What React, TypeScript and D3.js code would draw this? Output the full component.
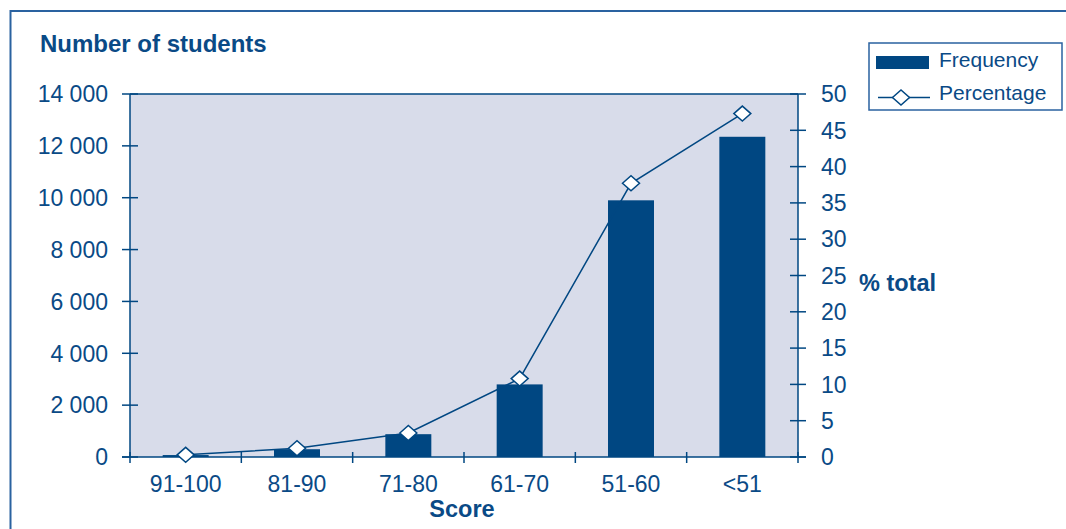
import React, { useEffect, useRef } from 'react';
import * as d3 from 'd3';

// chart data
const categories = ['91-100', '81-90', '71-80', '61-70', '51-60', '<51'];
const frequency = [75, 300, 880, 2800, 9900, 12350];
const percentage = [0.3, 1.2, 3.3, 10.8, 37.7, 47.3];
const leftTicks = [0, 2000, 4000, 6000, 8000, 10000, 12000, 14000];
const rightTicks = [0, 5, 10, 15, 20, 25, 30, 35, 40, 45, 50];

const BLUE = '#004782';
const TEXT = '#0a4a86';
const FRAME = '#2a62a0';
const BG = '#d8dcea';
const FONT = '"Liberation Sans", Arial, sans-serif';

const App = () => {
    const ref = useRef<SVGSVGElement | null>(null);

    useEffect(() => {
        const svg = d3.select(ref.current);
        svg.selectAll('*').remove();

        const left = 130, right = 798, top = 94, bottom = 457;

        // outer frame (runs off the right and bottom edge)
        svg.append('rect')
            .attr('x', 10.5).attr('y', 11)
            .attr('width', 1100).attr('height', 600)
            .attr('fill', 'none').attr('stroke', FRAME).attr('stroke-width', 2);

        const x = d3.scaleBand()
            .domain(categories)
            .range([left, right])
            .paddingInner(0.587)
            .paddingOuter(0.2935);
        const y = d3.scaleLinear().domain([0, 14000]).range([bottom, top]);
        const y2 = d3.scaleLinear().domain([0, 50]).range([bottom, top]);

        // plot background
        svg.append('rect')
            .attr('x', left).attr('y', top)
            .attr('width', right - left).attr('height', bottom - top)
            .attr('fill', BG);
        svg.append('line')
            .attr('x1', left).attr('x2', right).attr('y1', top).attr('y2', top)
            .attr('stroke', BLUE).attr('stroke-width', 1.5);

        // bars
        svg.append('g')
            .selectAll('rect')
            .data(frequency)
            .enter().append('rect')
            .attr('x', (d, i) => x(categories[i]) as number)
            .attr('y', (d) => y(d))
            .attr('width', x.bandwidth())
            .attr('height', (d) => bottom - y(d))
            .attr('fill', BLUE);

        // axes lines
        const axes = svg.append('g').attr('stroke', BLUE).attr('stroke-width', 1.5);
        axes.append('line').attr('x1', left).attr('x2', left).attr('y1', top).attr('y2', bottom);
        axes.append('line').attr('x1', right).attr('x2', right).attr('y1', top).attr('y2', bottom);
        axes.append('line').attr('x1', left - 8).attr('x2', right + 8).attr('y1', bottom).attr('y2', bottom);

        leftTicks.forEach((t) => {
            axes.append('line').attr('x1', left - 8).attr('x2', left + 8).attr('y1', y(t)).attr('y2', y(t));
        });
        rightTicks.forEach((t) => {
            axes.append('line').attr('x1', right - 8).attr('x2', right + 8).attr('y1', y2(t)).attr('y2', y2(t));
        });
        const step = x.step();
        d3.range(categories.length + 1).forEach((i) => {
            const xx = left + i * step;
            axes.append('line').attr('x1', xx).attr('x2', xx).attr('y1', bottom - 5).attr('y2', bottom + 6);
        });

        const fmt = (v: number) => d3.format(',')(v).replace(',', ' ');

        // tick labels
        const labels = svg.append('g').attr('fill', TEXT).style('font-family', FONT).style('font-size', '23px');
        leftTicks.forEach((t) => {
            labels.append('text').attr('x', 108).attr('y', y(t)).attr('dy', '0.36em')
                .attr('text-anchor', 'end').text(fmt(t));
        });
        rightTicks.forEach((t) => {
            labels.append('text').attr('x', 821).attr('y', y2(t)).attr('dy', '0.36em').text(t);
        });
        categories.forEach((c) => {
            labels.append('text').attr('x', (x(c) as number) + x.bandwidth() / 2).attr('y', 492)
                .attr('text-anchor', 'middle').text(c);
        });

        // titles
        const titles = svg.append('g').attr('fill', TEXT).style('font-family', FONT)
            .style('font-size', '23.5px').style('font-weight', 'bold');
        titles.append('text').attr('x', 40).attr('y', 52).style('font-size', '24px').text('Number of students');
        titles.append('text').attr('x', 462).attr('y', 517).attr('text-anchor', 'middle').text('Score');
        titles.append('text').attr('x', 859).attr('y', 291).text('% total');

        // percentage line
        const cx = (i: number) => (x(categories[i]) as number) + x.bandwidth() / 2;
        const line = d3.line<number>().x((d, i) => cx(i)).y((d) => y2(d));
        svg.append('path')
            .datum(percentage)
            .attr('d', line)
            .attr('fill', 'none').attr('stroke', BLUE).attr('stroke-width', 1.5);

        const diamond = (px: number, py: number) =>
            `M${px - 8.5},${py} L${px},${py - 7.5} L${px + 8.5},${py} L${px},${py + 7.5} Z`;
        svg.append('g')
            .selectAll('path')
            .data(percentage)
            .enter().append('path')
            .attr('d', (d, i) => diamond(cx(i), y2(d)))
            .attr('fill', '#fff').attr('stroke', BLUE).attr('stroke-width', 1.5);

        // legend
        const lg = svg.append('g');
        lg.append('rect').attr('x', 869).attr('y', 43).attr('width', 193).attr('height', 67)
            .attr('fill', '#fff').attr('stroke', FRAME).attr('stroke-width', 1.5);
        lg.append('rect').attr('x', 876).attr('y', 56).attr('width', 53).attr('height', 13).attr('fill', BLUE);
        lg.append('line').attr('x1', 878).attr('x2', 930).attr('y1', 97.5).attr('y2', 97.5)
            .attr('stroke', BLUE).attr('stroke-width', 1.5);
        lg.append('path').attr('d', diamond(901, 97.5))
            .attr('fill', '#fff').attr('stroke', BLUE).attr('stroke-width', 1.5);
        lg.append('text').attr('x', 939).attr('y', 67).text('Frequency')
            .attr('fill', TEXT).style('font-family', FONT).style('font-size', '21px');
        lg.append('text').attr('x', 939).attr('y', 100).text('Percentage')
            .attr('fill', TEXT).style('font-family', FONT).style('font-size', '21px');
    }, []);

    return (
        <div style={{ position: 'fixed', left: 0, top: 0, width: 1066, height: 529, background: '#fff' }}>
            <svg ref={ref} width={1066} height={529} style={{ display: 'block' }} />
        </div>
    );
};

export default App;
